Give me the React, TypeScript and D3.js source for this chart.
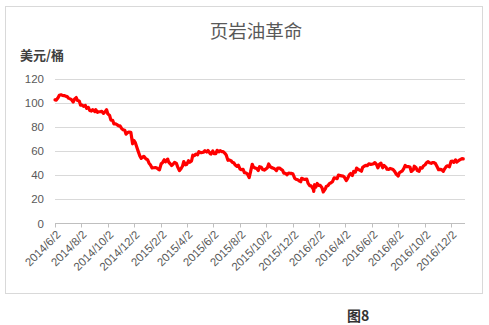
import React from "react";
import * as d3 from "d3";

const dates: string[] = [
  "2014-06-02","2014-06-05","2014-06-09","2014-06-12","2014-06-16","2014-06-19","2014-06-23","2014-06-26","2014-06-30",
  "2014-07-03","2014-07-07","2014-07-10","2014-07-14","2014-07-17","2014-07-21","2014-07-24","2014-07-28","2014-07-31",
  "2014-08-04","2014-08-07","2014-08-11","2014-08-14","2014-08-18","2014-08-21","2014-08-25","2014-08-28",
  "2014-09-02","2014-09-04","2014-09-08","2014-09-11","2014-09-15","2014-09-18","2014-09-22","2014-09-25","2014-09-29",
  "2014-10-02","2014-10-06","2014-10-09","2014-10-13","2014-10-16","2014-10-20","2014-10-23","2014-10-27","2014-10-30",
  "2014-11-03","2014-11-06","2014-11-10","2014-11-13","2014-11-17","2014-11-20","2014-11-24","2014-11-28",
  "2014-12-01","2014-12-04","2014-12-08","2014-12-11","2014-12-15","2014-12-18","2014-12-22","2014-12-24","2014-12-29","2014-12-31",
  "2015-01-02","2015-01-05","2015-01-08","2015-01-12","2015-01-15","2015-01-20","2015-01-22","2015-01-26","2015-01-29",
  "2015-02-02","2015-02-05","2015-02-09","2015-02-12","2015-02-17","2015-02-19","2015-02-23","2015-02-26",
  "2015-03-02","2015-03-05","2015-03-09","2015-03-12","2015-03-16","2015-03-18","2015-03-20","2015-03-23","2015-03-26","2015-03-30",
  "2015-04-02","2015-04-06","2015-04-09","2015-04-13","2015-04-16","2015-04-20","2015-04-23","2015-04-27","2015-04-30",
  "2015-05-04","2015-05-07","2015-05-11","2015-05-14","2015-05-18","2015-05-21","2015-05-26","2015-05-28",
  "2015-06-01","2015-06-04","2015-06-08","2015-06-11","2015-06-15","2015-06-18","2015-06-22","2015-06-25","2015-06-29",
  "2015-07-02","2015-07-06","2015-07-09","2015-07-13","2015-07-16","2015-07-20","2015-07-23","2015-07-27","2015-07-30",
  "2015-08-03","2015-08-06","2015-08-10","2015-08-13","2015-08-17","2015-08-20","2015-08-24","2015-08-27","2015-08-31",
  "2015-09-03","2015-09-08","2015-09-10","2015-09-14","2015-09-17","2015-09-21","2015-09-24","2015-09-28",
  "2015-10-01","2015-10-05","2015-10-08","2015-10-12","2015-10-15","2015-10-19","2015-10-22","2015-10-26","2015-10-29",
  "2015-11-02","2015-11-05","2015-11-09","2015-11-12","2015-11-16","2015-11-19","2015-11-23","2015-11-27","2015-11-30",
  "2015-12-03","2015-12-07","2015-12-10","2015-12-14","2015-12-17","2015-12-21","2015-12-23","2015-12-28","2015-12-30",
  "2016-01-04","2016-01-07","2016-01-11","2016-01-14","2016-01-19","2016-01-20","2016-01-22","2016-01-25","2016-01-28",
  "2016-02-01","2016-02-04","2016-02-08","2016-02-11","2016-02-16","2016-02-18","2016-02-22","2016-02-25","2016-02-29",
  "2016-03-03","2016-03-07","2016-03-10","2016-03-14","2016-03-17","2016-03-21","2016-03-24","2016-03-28","2016-03-31",
  "2016-04-04","2016-04-07","2016-04-11","2016-04-14","2016-04-18","2016-04-21","2016-04-25","2016-04-28",
  "2016-05-02","2016-05-05","2016-05-09","2016-05-12","2016-05-16","2016-05-19","2016-05-23","2016-05-26","2016-05-31",
  "2016-06-02","2016-06-06","2016-06-09","2016-06-13","2016-06-16","2016-06-20","2016-06-23","2016-06-27","2016-06-30",
  "2016-07-05","2016-07-07","2016-07-11","2016-07-14","2016-07-18","2016-07-21","2016-07-25","2016-07-28",
  "2016-08-02","2016-08-04","2016-08-08","2016-08-11","2016-08-15","2016-08-18","2016-08-22","2016-08-25","2016-08-29",
  "2016-09-01","2016-09-06","2016-09-08","2016-09-12","2016-09-15","2016-09-19","2016-09-22","2016-09-26","2016-09-29",
  "2016-10-03","2016-10-06","2016-10-10","2016-10-13","2016-10-17","2016-10-20","2016-10-24","2016-10-27","2016-10-31",
  "2016-11-03","2016-11-07","2016-11-10","2016-11-14","2016-11-17","2016-11-21","2016-11-23","2016-11-28","2016-11-30",
  "2016-12-02","2016-12-05","2016-12-08","2016-12-12","2016-12-15","2016-12-19","2016-12-22","2016-12-27","2016-12-30",
];

const prices: number[] = [
  102.7,102.5,104.4,106.5,106.9,106.4,106.2,105.8,105.4,
  104.1,103.5,102.9,100.9,103.2,104.6,102.1,101.7,98.2,
  98.3,97.3,98.1,95.6,96.4,93.9,93.4,94.6,
  92.9,94.5,92.3,92.8,92.9,93.1,91.5,92.5,94.5,
  91.0,89.7,85.8,85.7,82.7,82.7,82.1,81.0,81.1,
  78.8,77.9,77.4,74.2,75.6,76.0,75.8,66.2,
  69.0,67.4,63.1,59.9,55.9,54.1,55.3,55.8,53.6,53.3,
  52.7,50.1,48.8,46.1,46.3,46.4,46.3,45.2,44.5,
  49.6,50.5,52.9,51.2,53.5,51.2,49.5,48.1,
  49.6,50.8,50.0,47.0,43.9,44.7,45.7,47.5,51.4,48.7,
  49.1,52.1,50.8,51.9,56.7,56.4,57.7,57.0,59.6,
  58.9,58.9,59.3,60.5,59.4,60.7,58.0,57.7,
  60.2,58.0,58.1,60.8,59.5,60.5,59.7,59.7,58.3,
  56.9,52.5,52.8,52.2,50.9,50.2,48.5,47.4,48.5,
  45.2,44.7,44.9,42.2,41.9,41.1,38.2,42.6,49.2,
  46.8,45.9,45.9,44.0,47.2,46.7,44.9,44.4,
  45.1,46.3,49.4,47.1,46.4,45.9,45.4,43.9,46.1,
  46.1,45.2,44.2,41.8,41.7,40.5,41.9,41.7,41.7,
  41.1,37.6,36.8,36.3,35.5,34.7,37.5,36.8,36.6,
  36.8,33.3,31.4,31.2,28.5,26.7,32.2,30.3,33.2,
  31.6,31.7,29.7,26.2,29.0,30.8,31.5,33.1,33.8,
  34.6,37.9,37.8,37.2,40.2,39.9,39.5,39.4,38.3,
  35.7,37.3,40.4,41.5,39.8,43.2,42.6,46.0,
  44.8,44.3,43.4,46.7,47.7,48.2,48.1,49.5,49.1,
  49.2,49.7,50.6,48.9,46.2,49.4,50.1,46.3,48.3,
  46.6,45.1,45.0,45.7,45.2,44.8,43.1,41.1,
  39.5,41.9,43.0,43.5,45.7,48.2,47.1,47.3,46.9,
  43.2,44.8,47.6,46.3,43.9,43.3,46.3,45.9,47.8,
  48.8,50.4,51.4,50.4,50.0,50.6,50.5,49.7,46.9,
  44.7,44.9,44.7,43.3,45.4,47.5,47.9,47.1,49.4,
  51.7,51.8,50.8,52.8,51.0,52.1,52.9,53.9,53.7,
];

const xTickLabels: string[] = [
  "2014/6/2","2014/8/2","2014/10/2","2014/12/2","2015/2/2","2015/4/2","2015/6/2","2015/8/2",
  "2015/10/2","2015/12/2","2016/2/2","2016/4/2","2016/6/2","2016/8/2","2016/10/2","2016/12/2",
];
const yTicks: number[] = [0, 20, 40, 60, 80, 100, 120];

const title = "页岩油革命";
const yUnit = "美元/桶";
const caption = "图8";

const parseLabel = (s: string) => {
  const [y, m, d] = s.split("/").map(Number);
  return new Date(y, m - 1, d);
};
const parseIso = d3.timeParse("%Y-%m-%d");

export default function App() {
  const W = 489, H = 325;
  const left = 55, right = 465, top = 79, bottom = 223.5;
  const x = d3.scaleTime()
    .domain([new Date(2014, 5, 2), new Date(2017, 0, 3)])
    .range([left, right]);
  const y = d3.scaleLinear().domain([0, 120]).range([bottom, top]);
  const data = dates.map((d, i) => ({ date: parseIso(d) as Date, v: prices[i] }));
  const line = d3.line<{ date: Date; v: number }>()
    .x(d => x(d.date))
    .y(d => y(d.v))
    .curve(d3.curveLinear);
  const tickFont = "'Liberation Sans', Arial, sans-serif";
  return (
    <svg width={W} height={H} style={{ display: "block", background: "#fff" }}>
      <style>{`body{margin:0}`}</style>
      <rect x={0} y={0} width={W} height={H} fill="#fff" />
      <rect x={5.5} y={6.5} width={477} height={287} fill="#fff" stroke="#d9d9d9" strokeWidth={1} />
      <text x={256} y={38} textAnchor="middle" fontFamily="'Noto Sans CJK SC', sans-serif"
        fontSize={18.5} fill="#595959">{title}</text>
      <text x={20} y={60} fontFamily="'Noto Sans CJK SC', sans-serif" fontWeight="bold"
        fontSize={13} fill="#404040">{yUnit}</text>
      {yTicks.map(t => (
        <g key={t}>
          {t !== 0 && (
            <line x1={left} x2={right} y1={Math.round(y(t)) + 0.5} y2={Math.round(y(t)) + 0.5}
              stroke="#d9d9d9" strokeWidth={1} />
          )}
          <text x={44} y={y(t)} dy="0.35em" textAnchor="end" fontFamily={tickFont}
            fontSize={11.5} fill="#595959">{t}</text>
        </g>
      ))}
      <line x1={left} x2={right} y1={y(0)} y2={y(0)} stroke="#bfbfbf" strokeWidth={1} />
      {xTickLabels.map(lbl => {
        const tx = Math.round(x(parseLabel(lbl))) + 0.5;
        return (
          <g key={lbl}>
            <line x1={tx} x2={tx} y1={y(0)} y2={y(0) + 4} stroke="#bfbfbf" strokeWidth={1} />
            <text transform={`translate(${tx + 3},${y(0) + 9}) rotate(-45)`} textAnchor="end"
              dy="0.35em" fontFamily={tickFont} fontSize={11.5} fill="#595959">{lbl}</text>
          </g>
        );
      })}
      <path d={line(data) || ""} fill="none" stroke="#ff0000" strokeWidth={3.2}
        strokeLinejoin="round" strokeLinecap="round" />
      <text x={347} y={321} fontFamily="'Noto Sans CJK SC', sans-serif" fontWeight="bold"
        fontSize={14} fill="#333">{caption}</text>
    </svg>
  );
}
